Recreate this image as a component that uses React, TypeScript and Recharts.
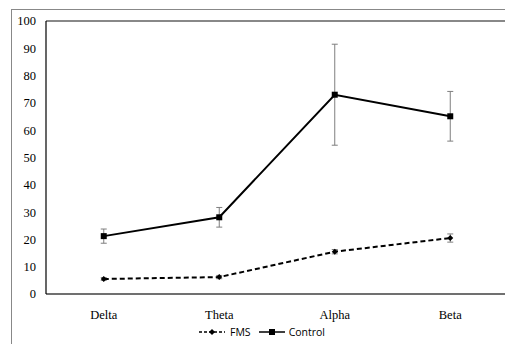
import { LineChart, Line, XAxis, YAxis, ErrorBar, Legend, ReferenceLine } from 'recharts';

const bands = ['Delta', 'Theta', 'Alpha', 'Beta'];
const fmsMean = [5.5, 6.2, 15.5, 20.5];
const fmsErr = [0.5, 0.6, 0.8, 1.5];
const controlMean = [21.2, 28.1, 73.0, 65.1];
const controlErr = [2.6, 3.6, 18.5, 9.1];
const yTicks = [0, 10, 20, 30, 40, 50, 60, 70, 80, 90, 100];

const data = bands.map((band, i) => ({
  band,
  fms: fmsMean[i],
  fmsErr: fmsErr[i],
  control: controlMean[i],
  controlErr: controlErr[i],
}));

const serif = '"Liberation Serif", "Times New Roman", serif';
const tickStyle = { fontFamily: serif, fontSize: 12.5, fill: '#000' };

// eslint-disable-next-line @typescript-eslint/no-explicit-any
const Diamond = (props: any) => {
  const { cx, cy } = props;
  if (cx == null || cy == null) return null;
  return <path d={`M${cx},${cy - 3}L${cx + 3},${cy}L${cx},${cy + 3}L${cx - 3},${cy}Z`} fill="#000" />;
};

// eslint-disable-next-line @typescript-eslint/no-explicit-any
const Square = (props: any) => {
  const { cx, cy } = props;
  if (cx == null || cy == null) return null;
  return <rect x={cx - 3} y={cy - 3} width={6} height={6} fill="#000" />;
};

const LegendContent = () => (
  <div
    style={{
      display: 'flex',
      justifyContent: 'center',
      alignItems: 'center',
      height: 24,
      paddingLeft: 8,
      fontFamily: '"Open Sans", sans-serif',
      fontSize: 10.5,
      color: '#000',
    }}
  >
    <svg width={26} height={10}>
      <line x1={0} y1={5} x2={26} y2={5} stroke="#000" strokeWidth={1.5} strokeDasharray="3 2" />
      <path d="M13,2L16,5L13,8L10,5Z" fill="#000" />
    </svg>
    <span style={{ marginLeft: 5, marginRight: 8 }}>FMS</span>
    <svg width={26} height={10}>
      <line x1={0} y1={5} x2={26} y2={5} stroke="#000" strokeWidth={1.5} />
      <rect x={10} y={2} width={6} height={6} fill="#000" />
    </svg>
    <span style={{ marginLeft: 4 }}>Control</span>
  </div>
);

export default function App() {
  return (
    <div
      style={{
        position: 'relative',
        width: 505,
        height: 336,
        overflow: 'hidden',
      }}
    >
      <div
        style={{
          position: 'absolute',
          left: 3,
          top: 1,
          width: 520,
          height: 400,
          border: '1px solid #888',
          boxSizing: 'border-box',
        }}
      />
      <LineChart
        width={505}
        height={336}
        data={data}
        margin={{ top: 13, right: 5, left: 0, bottom: 0 }}
        style={{ position: 'absolute', left: 0, top: 0, fontFamily: serif }}
      >
        <XAxis
          dataKey="band"
          scale="band"
          axisLine={{ stroke: '#404040', strokeWidth: 1.5 }}
          tickLine={false}
          tick={tickStyle}
          tickMargin={10}
          height={26}
        />
        <YAxis
          domain={[0, 100]}
          ticks={yTicks}
          interval={0}
          axisLine={{ stroke: '#000', strokeWidth: 1.2 }}
          tickLine={false}
          tick={tickStyle}
          tickMargin={4}
          width={38}
        />
        {/* plot frame: top and right edges */}
        <ReferenceLine y={100} stroke="#888" strokeWidth={2} />
        <ReferenceLine x="Beta" position="end" stroke="#000" strokeWidth={1.2} />
        <Legend verticalAlign="bottom" height={24} content={<LegendContent />} />
        <Line
          dataKey="control"
          stroke="#000"
          strokeWidth={2}
          dot={<Square />}
          isAnimationActive={false}
        >
          <ErrorBar dataKey="controlErr" direction="y" width={3} stroke="#7f7f7f" strokeWidth={1} />
        </Line>
        <Line
          dataKey="fms"
          stroke="#000"
          strokeWidth={2}
          strokeDasharray="5 3"
          dot={<Diamond />}
          isAnimationActive={false}
        >
          <ErrorBar dataKey="fmsErr" direction="y" width={3} stroke="#7f7f7f" strokeWidth={1} />
        </Line>
      </LineChart>
    </div>
  );
}
